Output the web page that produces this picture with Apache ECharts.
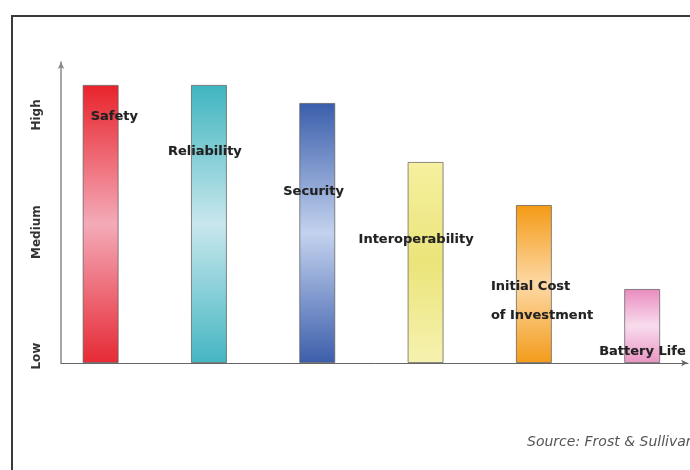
<!DOCTYPE html>
<html>
<head>
<meta charset="utf-8">
<script src="https://cdn.jsdelivr.net/npm/echarts@6/dist/echarts.min.js"></script>
<style>
  html, body { margin: 0; padding: 0; background: #fff; }
  #chart { width: 690px; height: 470px; }
</style>
</head>
<body>
<div id="chart"></div>
<script>
// factors, ranked by importance
var categories = ['Safety', 'Reliability', 'Security', 'Interoperability', 'Initial Cost\nof Investment', 'Battery Life'];
var importance = [92.4, 92.4, 86.4, 66.8, 52.5, 24.6];

// y axis levels
var levelValues = [2.3, 43.5, 82.4];
var levelNames = ['Low', 'Medium', 'High'];

// look of each bar: [top, middle, bottom]
var barColors = [
    ['#e8232b', '#f4aab8', '#e62a35'],
    ['#3fb5bf', '#c8e7ed', '#44b6c2'],
    ['#3a5eab', '#c3d2ee', '#3c5eab'],
    ['#f6f0a0', '#ebe47a', '#f6f2b0'],
    ['#f49a14', '#fdd9a6', '#f39b1a'],
    ['#e98cbf', '#f8dced', '#ea95c3']
];
// where each label sits, relative to the top-left of its bar
var labelOffsets = [[8, 32], [-23, 67], [-16, 89], [-49, 78], [-25, 96], [-25, 63]];

function gradient(c) {
    return new echarts.graphic.LinearGradient(0, 0, 0, 1, [
        {offset: 0, color: c[0]},
        {offset: 0.5, color: c[1]},
        {offset: 1, color: c[2]}
    ]);
}

var myChart = echarts.init(document.getElementById('chart'));

var barData = categories.map(function (name, i) {
    return {
        name: name,
        value: [i, importance[i]],
        itemStyle: {color: gradient(barColors[i])},
        label: {position: labelOffsets[i]}
    };
});

var option = {
    animation: false,
    grid: {left: 61, right: 2, top: 62, bottom: 107},
    xAxis: {
        type: 'value',
        min: -0.366,
        max: 5.423,
        axisLine: {show: true, onZero: false, symbol: ['none', 'arrow'], symbolSize: [5, 7], lineStyle: {color: '#666', width: 1}},
        axisTick: {show: false},
        axisLabel: {show: false},
        splitLine: {show: false}
    },
    yAxis: {
        type: 'value',
        min: 0,
        max: 100,
        axisLine: {show: true, onZero: false, symbol: ['none', 'arrow'], symbolSize: [5, 7], lineStyle: {color: '#888', width: 1.5}},
        axisTick: {show: false},
        splitLine: {show: false},
        axisLabel: {
            customValues: levelValues,
            rotate: 90,
            margin: 18,
            color: '#333',
            fontWeight: 'bold',
            fontSize: 12,
            fontFamily: 'DejaVu Sans',
            formatter: function (v) {
                var k = levelValues.indexOf(v);
                return k >= 0 ? levelNames[k] : '';
            }
        }
    },
    series: [{
        type: 'bar',
        barWidth: 36,
        data: barData,
        itemStyle: {borderColor: 'rgba(90,90,90,0.7)', borderWidth: 1},
        label: {
            show: true,
            formatter: '{b}',
            align: 'left',
            verticalAlign: 'middle',
            color: '#222',
            fontWeight: 'bold',
            fontSize: 13,
            fontFamily: 'DejaVu Sans',
            lineHeight: 29,
            textShadowColor: 'rgba(0,0,0,0.25)',
            textShadowBlur: 1
        }
    }],
    graphic: [
        {
            type: 'rect',
            shape: {x: 12, y: 16, width: 700, height: 500},
            style: {fill: 'none', stroke: '#3a3a3a', lineWidth: 2},
            silent: true
        },
        {
            type: 'text',
            left: 527,
            top: 435,
            style: {
                text: 'Source: Frost & Sullivan',
                fill: '#555',
                font: 'italic 14px "DejaVu Sans"'
            }
        }
    ]
};

myChart.setOption(option);

window.addEventListener('resize', function () {
    myChart.resize();
});
</script>
</body>
</html>
